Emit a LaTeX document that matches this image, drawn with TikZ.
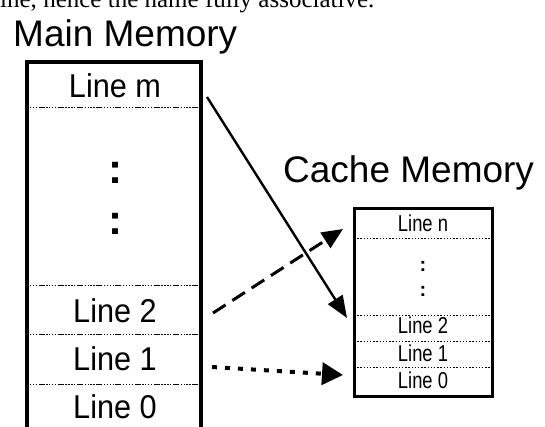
\documentclass[tikz,border=0pt]{standalone}
\usepackage{fontspec}
\setmainfont{Liberation Sans}
\newfontfamily\toptextfont{Liberation Serif}
\newfontfamily\mainlblfont[FakeStretch=0.93]{Liberation Sans}
\newfontfamily\cachelblfont[FakeStretch=0.8]{Liberation Sans}
\usetikzlibrary{arrows.meta}
\begin{document}
\begin{tikzpicture}[x=1pt,y=-1pt,
  toptext/.style={font=\toptextfont\fontsize{25}{25}\selectfont, anchor=base west, inner sep=0},
  title/.style={font=\fontsize{37}{40}\selectfont, anchor=base west, inner sep=0},
  mlabel/.style={font=\mainlblfont\fontsize{33}{36}\selectfont, anchor=base, inner sep=0},
  clabel/.style={font=\cachelblfont\fontsize{23}{25}\selectfont, anchor=base, inner sep=0},
  mdots/.style={font=\bfseries\fontsize{42}{42}\selectfont, anchor=base, inner sep=0},
  cdots/.style={font=\bfseries\fontsize{20}{20}\selectfont, anchor=base, inner sep=0},
  memframe/.style={line width=4pt, line join=miter},
  cacheframe/.style={draw, line width=3pt, inner sep=0, minimum width=138pt, minimum height=187pt},
  msep/.style={line width=1pt, dash pattern=on 1.3pt off 1.6pt on 1.3pt off 1.6pt on 1.3pt off 1.6pt on 1.3pt off 1.6pt on 6pt off 1.6pt},
  csep/.style={line width=0.9pt, dash pattern=on 1.3pt off 1.9pt},
  solidarrow/.style={line width=2.4pt, -{Triangle[length=22pt,width=17pt]}},
  dashedarrow/.style={line width=3pt, dash pattern=on 15pt off 8pt, -{Triangle[length=21pt,width=18pt]}},
  dottedarrow/.style={line width=4pt, dash pattern=on 5pt off 8pt, -{Triangle[length=21pt,width=22pt]}},
]
\useasboundingbox (0,0) rectangle (545,427);
\clip (0,0) rectangle (545,427);

% cut-off text line at the top
\node[toptext] (top) at (0,7.5) {ine, hence the name fully associative.};

% titles
\node[title] (mmtitle) at (13,47) {Main Memory};
\node[title] (cmtitle) at (283,183) {Cache Memory};

% main memory box
\draw[memframe] (27,440) -- (27,62) -- (201,62) -- (201,440);
\draw[msep] (27,108) -- (201,108);
\draw[msep] (27,285) -- (201,285);
\draw[msep] (27,334) -- (201,334);
\draw[msep] (27,384) -- (201,384);
\node[mlabel] (mlm) at (115,98) {Line m};
\node[mdots] (md1) at (115,184) {:};
\node[mdots] (md2) at (115,235) {:};
\node[mlabel] (ml2) at (115,322) {Line 2};
\node[mlabel] (ml1) at (115,370) {Line 1};
\node[mlabel] (ml0) at (115,418) {Line 0};

% cache memory box
\node[cacheframe] (cache) at (423,302.5) {};
\draw[csep] (354,238) -- (492,238);
\draw[csep] (354,315) -- (492,315);
\draw[csep] (354,341) -- (492,341);
\draw[csep] (354,367) -- (492,367);
\node[clabel] (cln) at (423,232) {Line n};
\node[cdots] (cd1) at (423,271) {:};
\node[cdots] (cd2) at (423,296) {:};
\node[clabel] (cl2) at (423,333) {Line 2};
\node[clabel] (cl1) at (423,361) {Line 1};
\node[clabel] (cl0) at (423,388) {Line 0};

% arrows
\coordinate (a1s) at (207,97);
\coordinate (a1e) at (347,318);
\coordinate (a2s) at (213,313);
\coordinate (a2e) at (343,229);
\coordinate (a3s) at (212,367);
\coordinate (a3e) at (343,375);
\draw[solidarrow] (a1s) -- (a1e);
\draw[dashedarrow] (a2s) -- (a2e);
\draw[dottedarrow] (a3s) -- (a3e);
\end{tikzpicture}
\end{document}
